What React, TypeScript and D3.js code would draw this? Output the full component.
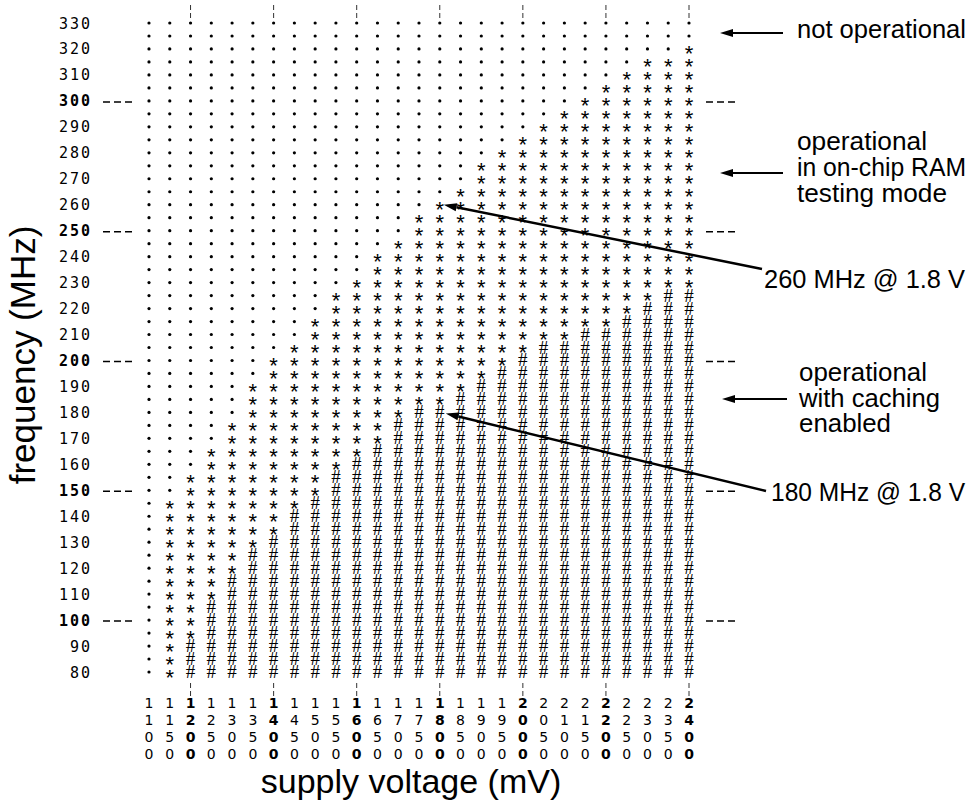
import React from "react";
import * as d3 from "d3";

// supply voltage columns (mV)
const voltages = [
  1100, 1150, 1200, 1250, 1300, 1350, 1400, 1450, 1500, 1550, 1600, 1650, 1700,
  1750, 1800, 1850, 1900, 1950, 2000, 2050, 2100, 2150, 2200, 2250, 2300, 2350, 2400,
];

// highest frequency (MHz) that still works in on-chip RAM testing mode, per voltage
const ramMaxFreq = [
  null, 145, 155, 165, 175, 190, 200, 205, 215, 225, 230, 240, 245,
  255, 260, 265, 275, 280, 285, 290, 295, 300, 305, 310, 315, 315, 320,
];

// highest frequency (MHz) that works with caching enabled, per voltage
const cacheMaxFreq = [
  null, null, 90, 105, 115, 125, 130, 140, 145, 155, 160, 165, 175,
  180, 180, 185, 190, 195, 200, 205, 205, 210, 210, 215, 220, 225, 225,
];

// tested frequencies (MHz)
const freqRows = [
  80, 85, 90, 95, 100, 105, 110, 115, 120, 125, 130, 135, 140, 145, 150, 155, 160,
  165, 170, 175, 180, 185, 190, 195, 200, 205, 210, 215, 220, 225, 230, 235, 240,
  245, 250, 255, 260, 265, 270, 275, 280, 285, 290, 295, 300, 305, 310, 315, 320,
  325, 330,
];

const freqTicks = [
  80, 90, 100, 110, 120, 130, 140, 150, 160, 170, 180, 190, 200, 210, 220, 230,
  240, 250, 260, 270, 280, 290, 300, 310, 320, 330,
];
const majorFreqs = [100, 150, 200, 250, 300];
const majorVolts = [1200, 1400, 1600, 1800, 2000, 2200, 2400];

const sans = "'Liberation Sans', Arial, Helvetica, sans-serif";

const Arrow = ({ x1, y1, x2, y2, w }: { x1: number; y1: number; x2: number; y2: number; w: number }) => {
  // line from (x1,y1) to tip (x2,y2) with filled head
  const ang = Math.atan2(y2 - y1, x2 - x1);
  const len = 13,
    half = 4;
  const bx = x2 - len * Math.cos(ang),
    by = y2 - len * Math.sin(ang);
  const px = -Math.sin(ang) * half,
    py = Math.cos(ang) * half;
  return (
    <g>
      <line x1={x1} y1={y1} x2={bx} y2={by} stroke="#000" strokeWidth={w} />
      <polygon points={`${x2},${y2} ${bx + px},${by + py} ${bx - px},${by - py}`} fill="#000" />
    </g>
  );
};

// annotation text, squeezed to the width seen in the figure
const Note = ({ x, y, w, children }: { x: number; y: number; w: number; children: string }) => (
  <text x={x} y={y} textLength={w} lengthAdjust="spacingAndGlyphs">
    {children}
  </text>
);

export default function App() {
  const x = d3.scaleLinear().domain([1100, 2400]).range([149, 689]);
  const y = d3.scaleLinear().domain([80, 330]).range([672, 23]);

  const cells: { v: number; f: number; s: string }[] = [];
  voltages.forEach((v, i) => {
    freqRows.forEach((f) => {
      const c = cacheMaxFreq[i];
      const r = ramMaxFreq[i];
      let s = ".";
      if (c != null && f <= c) s = "#";
      else if (r != null && f <= r) s = "*";
      cells.push({ v, f, s });
    });
  });

  const digitRows = [708, 725, 742, 759];

  return (
    <svg
      width={971}
      height={806}
      style={{ position: "absolute", left: 0, top: 0, background: "#fff" }}
    >
      {/* shmoo cells */}
      <g>
        {cells.map((d, i) =>
          d.s === "." ? (
            <circle key={i} cx={x(d.v)} cy={y(d.f)} r={1.6} fill="#000" />
          ) : d.s === "*" ? (
            <text
              key={i}
              x={x(d.v)}
              y={y(d.f) + 12.5}
              textAnchor="middle"
              fontFamily={sans}
              fontSize={22}
            >
              *
            </text>
          ) : (
            <text
              key={i}
              x={x(d.v)}
              y={y(d.f) + 6}
              textAnchor="middle"
              fontFamily="'Liberation Serif', 'Times New Roman', serif"
              fontSize={19}
            >
              #
            </text>
          )
        )}
      </g>

      {/* y tick labels */}
      <g fontFamily="'DejaVu Sans Mono', monospace" fontSize={15} letterSpacing={2}>
        {freqTicks.map((f) => (
          <text
            key={f}
            x={92}
            y={y(f) + 5.5}
            textAnchor="end"
            fontWeight={majorFreqs.includes(f) ? "bold" : "normal"}
          >
            {f}
          </text>
        ))}
      </g>

      {/* major frequency dashes */}
      <g stroke="#000" strokeWidth={1.5} strokeDasharray="7,4">
        {majorFreqs.map((f) => (
          <g key={f}>
            <line x1={103} x2={132} y1={y(f) + 1} y2={y(f) + 1} />
            <line x1={706} x2={735} y1={y(f) + 1} y2={y(f) + 1} />
          </g>
        ))}
      </g>

      {/* major voltage markers */}
      <g stroke="#333" strokeWidth={1} strokeDasharray="5,3">
        {majorVolts.map((v) => (
          <g key={v}>
            <line x1={x(v)} x2={x(v)} y1={5} y2={18} />
            <line x1={x(v)} x2={x(v)} y1={683} y2={696} />
          </g>
        ))}
      </g>

      {/* x tick labels, stacked digits */}
      <g fontFamily="'DejaVu Sans', sans-serif" fontSize={14} textAnchor="middle">
        {voltages.map((v) =>
          String(v)
            .split("")
            .map((ch, j) => (
              <text
                key={`${v}-${j}`}
                x={x(v)}
                y={digitRows[j]}
                fontWeight={majorVolts.includes(v) ? "bold" : "normal"}
              >
                {ch}
              </text>
            ))
        )}
      </g>

      {/* axis titles */}
      <text x={411} y={793} textAnchor="middle" fontFamily={sans} fontSize={34}>
        supply voltage (mV)
      </text>
      <text
        transform="translate(35,355) rotate(-90)"
        textAnchor="middle"
        fontFamily={sans}
        fontSize={35}
      >
        frequency (MHz)
      </text>

      {/* annotations */}
      <g fontFamily={sans} fontSize={25}>
        <Note x={797} y={38} w={169}>not operational</Note>
        <Note x={797} y={150} w={130}>operational</Note>
        <Note x={797} y={176} w={169}>in on-chip RAM</Note>
        <Note x={797} y={202} w={150}>testing mode</Note>
        <Note x={764} y={288} w={201}>260 MHz @ 1.8 V</Note>
        <Note x={799} y={381} w={128}>operational</Note>
        <Note x={799} y={407} w={141}>with caching</Note>
        <Note x={799} y={432} w={92}>enabled</Note>
        <Note x={771} y={501} w={194}>180 MHz @ 1.8 V</Note>
      </g>
      <Arrow x1={783} y1={33} x2={720} y2={33} w={2} />
      <Arrow x1={783} y1={173} x2={720} y2={173} w={2} />
      <Arrow x1={787} y1={399} x2={722} y2={399} w={2} />
      <Arrow x1={762} y1={269} x2={x(1800) + 4} y2={y(260)} w={2.5} />
      <Arrow x1={766} y1={491} x2={x(1800) + 6} y2={y(180) + 1} w={2.5} />
    </svg>
  );
}
